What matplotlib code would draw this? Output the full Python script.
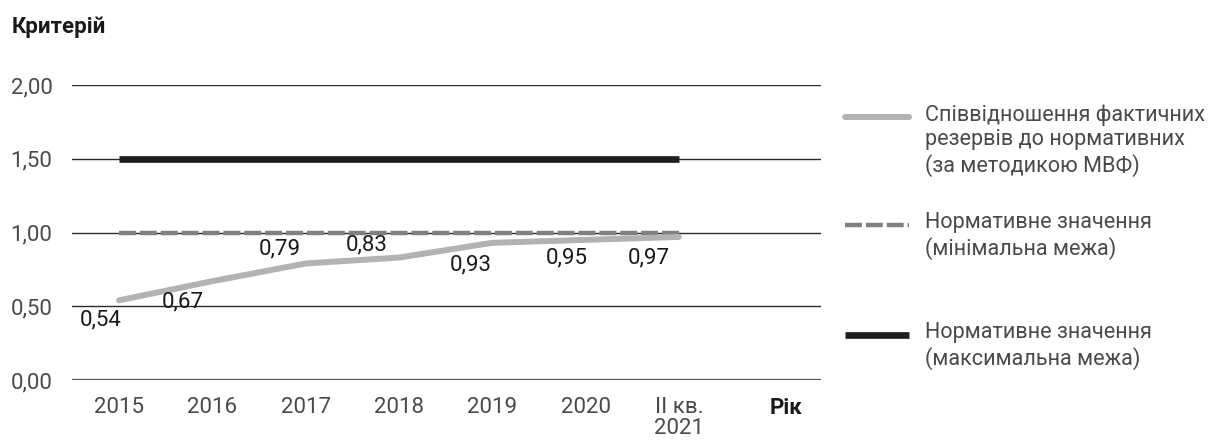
import matplotlib
matplotlib.use("Agg")
import matplotlib.pyplot as plt
from matplotlib.lines import Line2D

plt.rcParams['font.family'] = ['Roboto', 'DejaVu Sans']

categories = ["2015", "2016", "2017", "2018", "2019", "2020", "II кв.\n2021"]
ratio = [0.54, 0.67, 0.79, 0.83, 0.93, 0.95, 0.97]
norm_min = [1.0] * 7
norm_max = [1.5] * 7
yticks = [0.0, 0.5, 1.0, 1.5, 2.0]
ytick_labels = ["0,00", "0,50", "1,00", "1,50", "2,00"]
value_labels = ["0,54", "0,67", "0,79", "0,83", "0,93", "0,95", "0,97"]
# label offsets in pixels (dx, dy-down) relative to the point
label_offsets = [(-18, 20), (-30, 21), (-26, -15), (-32, -13), (-21, 22), (-19, 18), (-30, 21)]
legend_labels = [
    "Співвідношення фактичних\nрезервів до нормативних\n(за методикою МВФ)",
    "Нормативне значення\n(мінімальна межа)",
    "Нормативне значення\n(максимальна межа)",
]

W, H = 1213, 444
fig = plt.figure(figsize=(W / 100, H / 100), dpi=100)
ax = fig.add_axes([72 / W, (H - 380) / H, (821 - 72) / W, (380 - 85) / H])

FS = 16
LFS = 15.6
TICKC = "#4a4a4a"
GREY = "#b2b2b4"
DASH = "#808080"
BLACK = "#1e1c1c"

x = list(range(len(categories)))

for yv in yticks:
    ax.axhline(yv, color="#555555" if yv == 0 else "#2a2a2a", lw=1.6 if yv == 0 else 1.0, zorder=1)

ax.plot(x, norm_max, color=BLACK, lw=4.8, solid_capstyle="butt", zorder=3)
ax.plot(x, norm_min, color=DASH, lw=3.2, dashes=(3.8, 0.9), zorder=3)
ax.plot(x, ratio, color=GREY, lw=4.3, solid_capstyle="round", zorder=4)

for xi, v, lab, (dx, dy) in zip(x, ratio, value_labels, label_offsets):
    ax.annotate(lab, (xi, v), xytext=(dx * 0.72, -dy * 0.72), textcoords="offset points",
                ha="center", va="center", fontsize=FS, color="#1a1a1a", zorder=5)

ax.set_xlim(-0.504, 7.524)
ax.set_ylim(0, 2.0)
ax.set_xticks(x)
ax.set_xticklabels(categories, fontsize=FS, color=TICKC, linespacing=1.05)
ax.set_yticks(yticks)
ax.set_yticklabels(ytick_labels, fontsize=FS, color=TICKC)
ax.tick_params(length=0)
ax.tick_params(axis="y", pad=14)
ax.tick_params(axis="x", pad=12)
for s in ax.spines.values():
    s.set_visible(False)

def fx(px):
    return px / W

def fy(py):
    return 1 - py / H

fig.text(fx(12), fy(27), "Критерій", fontsize=FS, fontweight="bold", color="#1a1a1a", va="center", ha="left")
fig.text(fx(786), fy(408), "Рік", fontsize=FS, fontweight="bold", color="#1a1a1a", va="center", ha="center")

# legend
leg_styles = [
    dict(color=GREY, lw=4.3, solid_capstyle="round"),
    dict(color=DASH, lw=3.2, dashes=(3.8, 0.9)),
    dict(color=BLACK, lw=4.8, solid_capstyle="butt"),
]
leg_y = [117, 225, 335]
for lab, st, yy in zip(legend_labels, leg_styles, leg_y):
    fig.add_artist(Line2D([fx(845), fx(909)], [fy(yy), fy(yy)], transform=fig.transFigure, **st))
    fig.text(fx(925), fy(yy - 13), lab, fontsize=LFS, color=TICKC, va="top", ha="left", linespacing=1.22)

fig.savefig("out.png", dpi=100)
